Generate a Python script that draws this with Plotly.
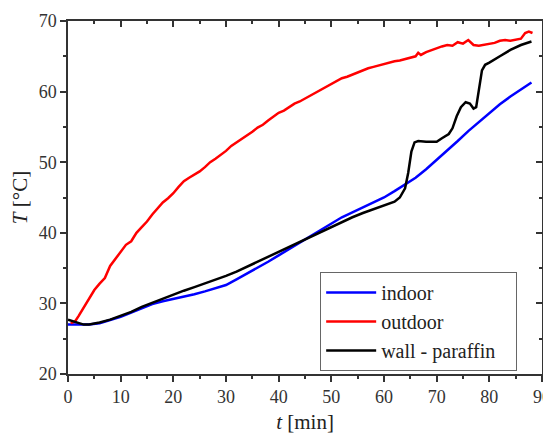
import plotly.graph_objects as go

# ---- data ----
t_outdoor = [0.5, 1.3, 2, 3, 4, 5, 6, 7, 8, 9, 10, 11, 12, 13, 14, 15, 16, 17, 18, 19, 20,
             21, 22, 23, 24, 25, 26, 27, 28, 29, 30, 31, 32, 33, 34, 35, 36, 37, 38, 39, 40,
             41, 42, 43, 44, 45, 46, 47, 48, 49, 50, 51, 52, 53, 54, 55, 56, 57, 58, 59, 60,
             61, 62, 63, 64, 65, 66, 66.5, 67, 68, 69, 70, 71, 72, 73, 74, 75, 76, 77, 78, 79,
             80, 81, 82, 83, 84, 85, 86, 86.8, 87.5, 88.2]
T_outdoor = [27.2, 27.4, 28.2, 29.5, 30.8, 31.9, 32.8, 33.6, 35.3, 36.3, 37.2, 38.3, 38.8,
             40.0, 40.8, 41.6, 42.6, 43.4, 44.3, 44.9, 45.6, 46.5, 47.3, 47.8, 48.2, 48.7,
             49.3, 50.0, 50.5, 51.0, 51.6, 52.3, 52.8, 53.3, 53.7, 54.3, 54.9, 55.3, 55.9,
             56.5, 57.0, 57.3, 57.8, 58.3, 58.6, 59.0, 59.5, 59.9, 60.3, 60.7, 61.0, 61.5,
             61.9, 62.1, 62.4, 62.8, 63.0, 63.3, 63.5, 63.7, 64.0, 64.1, 64.3, 64.4, 64.6,
             64.9, 65.0, 65.5, 65.2, 65.6, 65.9, 66.1, 66.4, 66.6, 66.5, 67.0, 66.8, 67.3,
             66.6, 66.5, 66.6, 66.8, 66.9, 67.2, 67.3, 67.2, 67.3, 67.5, 68.3, 68.5, 68.3]

t_indoor = [0, 2, 4, 6, 8, 10, 12, 14, 16, 18, 20, 22, 24, 26, 28, 30, 32, 34, 36, 38, 40,
            42, 44, 46, 48, 50, 52, 54, 56, 58, 60, 62, 64, 66, 68, 70, 72, 74, 76, 78, 80,
            82, 84, 86, 88]
T_indoor = [27.0, 27.0, 27.0, 27.2, 27.6, 28.1, 28.7, 29.3, 29.9, 30.3, 30.6, 30.9, 31.3,
            31.7, 32.1, 32.6, 33.4, 34.2, 35.0, 35.9, 36.8, 37.7, 38.6, 39.6, 40.5, 41.4,
            42.2, 42.9, 43.6, 44.3, 45.0, 45.9, 46.8, 47.8, 49.0, 50.3, 51.6, 53.0, 54.4,
            55.7, 57.0, 58.2, 59.3, 60.3, 61.3]

t_wall = [0, 1, 2, 3, 4, 5, 6, 8, 10, 12, 14, 16, 18, 20, 22, 24, 26, 28, 30, 32, 34, 36,
          38, 40, 42, 44, 46, 48, 50, 52, 54, 56, 58, 60, 62, 63, 64, 64.6, 65.2, 65.8,
          66.5, 68, 70, 71, 72.3, 73, 73.8, 74.6, 75.5, 76.3, 77.0, 77.5, 78.0, 78.6,
          79.2, 80, 82, 84, 86, 88]
T_wall = [27.7, 27.5, 27.2, 27.0, 27.0, 27.1, 27.3, 27.7, 28.2, 28.8, 29.5, 30.1, 30.7,
          31.2, 31.8, 32.3, 32.8, 33.3, 33.9, 34.5, 35.2, 35.9, 36.6, 37.3, 38.0, 38.7,
          39.5, 40.2, 40.9, 41.6, 42.2, 42.8, 43.3, 43.8, 44.4, 45.0, 46.3, 48.5, 51.5,
          52.8, 53.0, 52.9, 52.9, 53.4, 54.0, 54.8, 56.5, 57.8, 58.5, 58.3, 57.6, 57.8,
          60.0, 63.0, 63.8, 64.1, 65.0, 65.9, 66.6, 67.1]

x_ticks = [0, 10, 20, 30, 40, 50, 60, 70, 80, 90]
y_ticks = [20, 30, 40, 50, 60, 70]

FONT = "Times New Roman, Liberation Serif, DejaVu Serif, serif"

fig = go.Figure()
fig.add_trace(go.Scatter(x=t_indoor, y=T_indoor, mode="lines", name="indoor",
                         line=dict(color="#0000ff", width=2.5)))
fig.add_trace(go.Scatter(x=t_outdoor, y=T_outdoor, mode="lines", name="outdoor",
                         line=dict(color="#ff0000", width=2.5)))
fig.add_trace(go.Scatter(x=t_wall, y=T_wall, mode="lines", name="wall - paraffin\u00a0\u00a0\u00a0",
                         line=dict(color="#000000", width=2.5)))
# invisible trace to activate top/right mirror axes (inward ticks)
fig.add_trace(go.Scatter(x=t_indoor, y=T_indoor, mode="lines", xaxis="x2", yaxis="y2",
                         line=dict(width=0), opacity=0, showlegend=False, hoverinfo="skip"))

axis_common = dict(showgrid=False, zeroline=False, linecolor="#333", linewidth=1.5,
                   tickcolor="#333", tickwidth=1.5, ticklen=6, automargin=False)

# page body has an 8px margin: figure is shrunk and offset accordingly
fig.update_layout(
    width=543, height=428,
    margin=dict(l=60, r=9, t=13, b=62),
    paper_bgcolor="white", plot_bgcolor="white",
    font=dict(family=FONT, size=15, color="#333"),
    showlegend=True,
    legend=dict(x=0.532, y=0.289, xanchor="left", yanchor="top",
                bordercolor="#666", borderwidth=1, bgcolor="white",
                font=dict(family=FONT, size=20, color="#222"),
                itemwidth=50, tracegroupgap=0),
    xaxis=dict(range=[0, 90], tickvals=x_ticks, ticks="outside", showline=True,
               minor=dict(dtick=5, ticks="outside", ticklen=3, tickcolor="#333", tickwidth=1.5),
               title=dict(text="<i>t</i> [min]", font=dict(family=FONT, size=21, color="#222"),
                          standoff=8),
               tickfont=dict(family=FONT, size=18, color="#333"),
               **axis_common),
    yaxis=dict(range=[20, 70], tickvals=y_ticks, ticks="outside", showline=True,
               minor=dict(dtick=5, ticks="outside", ticklen=3, tickcolor="#333", tickwidth=1.5),
               title=dict(text="<i>T</i> [°C]", font=dict(family=FONT, size=21, color="#222"),
                          standoff=6),
               tickfont=dict(family=FONT, size=18, color="#333"),
               **axis_common),
    xaxis2=dict(range=[0, 90], tickvals=x_ticks, ticks="inside", showline=True,
                overlaying="x", side="top", showticklabels=False,
                minor=dict(dtick=5, ticks="inside", ticklen=3, tickcolor="#333", tickwidth=1.5),
                **axis_common),
    yaxis2=dict(range=[20, 70], tickvals=y_ticks, ticks="inside", showline=True,
                overlaying="y", side="right", showticklabels=False,
                minor=dict(dtick=5, ticks="inside", ticklen=3, tickcolor="#333", tickwidth=1.5),
                **axis_common),
)

fig.write_html("out.html")
